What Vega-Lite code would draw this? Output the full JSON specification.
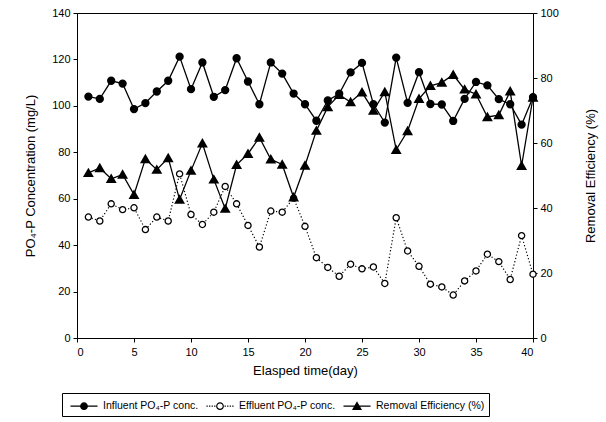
{
  "$schema": "https://vega.github.io/schema/vega-lite/v6.json",
  "width": 456,
  "height": 325,
  "autosize": {"type": "none"},
  "padding": {"left": 77, "top": 13, "right": 73, "bottom": 84},
  "background": "white",
  "config": {
    "view": {"stroke": "black", "strokeWidth": 1},
    "font": "Liberation Sans",
    "axis": {
      "grid": false,
      "domainColor": "black",
      "tickColor": "black",
      "labelColor": "black",
      "titleColor": "black",
      "labelFont": "Liberation Sans",
      "titleFont": "Liberation Sans",
      "labelFontSize": 11,
      "titleFontSize": 13,
      "titleFontWeight": "normal",
      "tickSize": 4,
      "labelPadding": 3
    },
    "legend": {
      "labelFont": "Liberation Sans",
      "labelFontSize": 10.5,
      "labelColor": "black"
    }
  },
  "datasets": {
    "pts": [
      {"day": 1, "series": "Influent PO₄-P conc.", "value": 104},
      {"day": 2, "series": "Influent PO₄-P conc.", "value": 103},
      {"day": 3, "series": "Influent PO₄-P conc.", "value": 110.8},
      {"day": 4, "series": "Influent PO₄-P conc.", "value": 109.6},
      {"day": 5, "series": "Influent PO₄-P conc.", "value": 98.6},
      {"day": 6, "series": "Influent PO₄-P conc.", "value": 101.2},
      {"day": 7, "series": "Influent PO₄-P conc.", "value": 106.2},
      {"day": 8, "series": "Influent PO₄-P conc.", "value": 110.8},
      {"day": 9, "series": "Influent PO₄-P conc.", "value": 121.2},
      {"day": 10, "series": "Influent PO₄-P conc.", "value": 107.2},
      {"day": 11, "series": "Influent PO₄-P conc.", "value": 118.7},
      {"day": 12, "series": "Influent PO₄-P conc.", "value": 103.9},
      {"day": 13, "series": "Influent PO₄-P conc.", "value": 106.8},
      {"day": 14, "series": "Influent PO₄-P conc.", "value": 120.5},
      {"day": 15, "series": "Influent PO₄-P conc.", "value": 110.5},
      {"day": 16, "series": "Influent PO₄-P conc.", "value": 100.7},
      {"day": 17, "series": "Influent PO₄-P conc.", "value": 118.7},
      {"day": 18, "series": "Influent PO₄-P conc.", "value": 113.9},
      {"day": 19, "series": "Influent PO₄-P conc.", "value": 105.3},
      {"day": 20, "series": "Influent PO₄-P conc.", "value": 100.7},
      {"day": 21, "series": "Influent PO₄-P conc.", "value": 93.6},
      {"day": 22, "series": "Influent PO₄-P conc.", "value": 102.3},
      {"day": 23, "series": "Influent PO₄-P conc.", "value": 105.2},
      {"day": 24, "series": "Influent PO₄-P conc.", "value": 114.4},
      {"day": 25, "series": "Influent PO₄-P conc.", "value": 118.5},
      {"day": 26, "series": "Influent PO₄-P conc.", "value": 100.7},
      {"day": 27, "series": "Influent PO₄-P conc.", "value": 92.8},
      {"day": 28, "series": "Influent PO₄-P conc.", "value": 120.8},
      {"day": 29, "series": "Influent PO₄-P conc.", "value": 101.3},
      {"day": 30, "series": "Influent PO₄-P conc.", "value": 114.5},
      {"day": 31, "series": "Influent PO₄-P conc.", "value": 100.8},
      {"day": 32, "series": "Influent PO₄-P conc.", "value": 100.6},
      {"day": 33, "series": "Influent PO₄-P conc.", "value": 93.5},
      {"day": 34, "series": "Influent PO₄-P conc.", "value": 103},
      {"day": 35, "series": "Influent PO₄-P conc.", "value": 110.3},
      {"day": 36, "series": "Influent PO₄-P conc.", "value": 108.8},
      {"day": 37, "series": "Influent PO₄-P conc.", "value": 102.9},
      {"day": 38, "series": "Influent PO₄-P conc.", "value": 100.7},
      {"day": 39, "series": "Influent PO₄-P conc.", "value": 91.9},
      {"day": 40, "series": "Influent PO₄-P conc.", "value": 103.7},
      {"day": 1, "series": "Effluent PO₄-P conc.", "value": 52.1},
      {"day": 2, "series": "Effluent PO₄-P conc.", "value": 50.4},
      {"day": 3, "series": "Effluent PO₄-P conc.", "value": 57.8},
      {"day": 4, "series": "Effluent PO₄-P conc.", "value": 55.3},
      {"day": 5, "series": "Effluent PO₄-P conc.", "value": 56.1},
      {"day": 6, "series": "Effluent PO₄-P conc.", "value": 46.7},
      {"day": 7, "series": "Effluent PO₄-P conc.", "value": 52.1},
      {"day": 8, "series": "Effluent PO₄-P conc.", "value": 50.4},
      {"day": 9, "series": "Effluent PO₄-P conc.", "value": 70.7},
      {"day": 10, "series": "Effluent PO₄-P conc.", "value": 53.2},
      {"day": 11, "series": "Effluent PO₄-P conc.", "value": 48.9},
      {"day": 12, "series": "Effluent PO₄-P conc.", "value": 54.2},
      {"day": 13, "series": "Effluent PO₄-P conc.", "value": 65.3},
      {"day": 14, "series": "Effluent PO₄-P conc.", "value": 57.8},
      {"day": 15, "series": "Effluent PO₄-P conc.", "value": 48.5},
      {"day": 16, "series": "Effluent PO₄-P conc.", "value": 39.2},
      {"day": 17, "series": "Effluent PO₄-P conc.", "value": 54.7},
      {"day": 18, "series": "Effluent PO₄-P conc.", "value": 54.2},
      {"day": 19, "series": "Effluent PO₄-P conc.", "value": 60.3},
      {"day": 20, "series": "Effluent PO₄-P conc.", "value": 48.1},
      {"day": 21, "series": "Effluent PO₄-P conc.", "value": 34.6},
      {"day": 22, "series": "Effluent PO₄-P conc.", "value": 30.4},
      {"day": 23, "series": "Effluent PO₄-P conc.", "value": 26.6},
      {"day": 24, "series": "Effluent PO₄-P conc.", "value": 31.8},
      {"day": 25, "series": "Effluent PO₄-P conc.", "value": 29.8},
      {"day": 26, "series": "Effluent PO₄-P conc.", "value": 30.6},
      {"day": 27, "series": "Effluent PO₄-P conc.", "value": 23.5},
      {"day": 28, "series": "Effluent PO₄-P conc.", "value": 51.8},
      {"day": 29, "series": "Effluent PO₄-P conc.", "value": 37.5},
      {"day": 30, "series": "Effluent PO₄-P conc.", "value": 30.9},
      {"day": 31, "series": "Effluent PO₄-P conc.", "value": 23.2},
      {"day": 32, "series": "Effluent PO₄-P conc.", "value": 22},
      {"day": 33, "series": "Effluent PO₄-P conc.", "value": 18.5},
      {"day": 34, "series": "Effluent PO₄-P conc.", "value": 24.6},
      {"day": 35, "series": "Effluent PO₄-P conc.", "value": 28.9},
      {"day": 36, "series": "Effluent PO₄-P conc.", "value": 36.1},
      {"day": 37, "series": "Effluent PO₄-P conc.", "value": 32.9},
      {"day": 38, "series": "Effluent PO₄-P conc.", "value": 25.2},
      {"day": 39, "series": "Effluent PO₄-P conc.", "value": 44.1},
      {"day": 40, "series": "Effluent PO₄-P conc.", "value": 27.5},
      {"day": 1, "series": "Removal Efficiency (%)", "value": 50.8},
      {"day": 2, "series": "Removal Efficiency (%)", "value": 52.3},
      {"day": 3, "series": "Removal Efficiency (%)", "value": 49},
      {"day": 4, "series": "Removal Efficiency (%)", "value": 50.3},
      {"day": 5, "series": "Removal Efficiency (%)", "value": 44.1},
      {"day": 6, "series": "Removal Efficiency (%)", "value": 55.1},
      {"day": 7, "series": "Removal Efficiency (%)", "value": 51.8},
      {"day": 8, "series": "Removal Efficiency (%)", "value": 55.4},
      {"day": 9, "series": "Removal Efficiency (%)", "value": 42.6},
      {"day": 10, "series": "Removal Efficiency (%)", "value": 51.5},
      {"day": 11, "series": "Removal Efficiency (%)", "value": 59.9},
      {"day": 12, "series": "Removal Efficiency (%)", "value": 48.8},
      {"day": 13, "series": "Removal Efficiency (%)", "value": 39.8},
      {"day": 14, "series": "Removal Efficiency (%)", "value": 53.3},
      {"day": 15, "series": "Removal Efficiency (%)", "value": 56.7},
      {"day": 16, "series": "Removal Efficiency (%)", "value": 61.7},
      {"day": 17, "series": "Removal Efficiency (%)", "value": 55},
      {"day": 18, "series": "Removal Efficiency (%)", "value": 53.4},
      {"day": 19, "series": "Removal Efficiency (%)", "value": 43.3},
      {"day": 20, "series": "Removal Efficiency (%)", "value": 53.1},
      {"day": 21, "series": "Removal Efficiency (%)", "value": 63.8},
      {"day": 22, "series": "Removal Efficiency (%)", "value": 71.1},
      {"day": 23, "series": "Removal Efficiency (%)", "value": 74.8},
      {"day": 24, "series": "Removal Efficiency (%)", "value": 72.6},
      {"day": 25, "series": "Removal Efficiency (%)", "value": 75.6},
      {"day": 26, "series": "Removal Efficiency (%)", "value": 70},
      {"day": 27, "series": "Removal Efficiency (%)", "value": 75.7},
      {"day": 28, "series": "Removal Efficiency (%)", "value": 57.9},
      {"day": 29, "series": "Removal Efficiency (%)", "value": 63.7},
      {"day": 30, "series": "Removal Efficiency (%)", "value": 73.6},
      {"day": 31, "series": "Removal Efficiency (%)", "value": 77.6},
      {"day": 32, "series": "Removal Efficiency (%)", "value": 78.6},
      {"day": 33, "series": "Removal Efficiency (%)", "value": 81},
      {"day": 34, "series": "Removal Efficiency (%)", "value": 76.5},
      {"day": 35, "series": "Removal Efficiency (%)", "value": 75},
      {"day": 36, "series": "Removal Efficiency (%)", "value": 68},
      {"day": 37, "series": "Removal Efficiency (%)", "value": 68.6},
      {"day": 38, "series": "Removal Efficiency (%)", "value": 75.9},
      {"day": 39, "series": "Removal Efficiency (%)", "value": 53},
      {"day": 40, "series": "Removal Efficiency (%)", "value": 74}
    ]
  },
  "data": {"name": "pts"},
  "encoding": {
    "x": {
      "field": "day",
      "type": "quantitative",
      "scale": {"domain": [0, 40], "nice": false},
      "axis": {"values": [0, 5, 10, 15, 20, 25, 30, 35, 40], "title": "Elasped time(day)", "titlePadding": 7, "labelPadding": 4}
    }
  },
  "layer": [
    {
      "encoding": {
        "y": {
          "field": "value",
          "type": "quantitative",
          "scale": {"domain": [0, 140], "nice": false},
          "axis": {"values": [0, 20, 40, 60, 80, 100, 120, 140], "title": "PO₄-P Concentration (mg/L)", "titlePadding": 14}
        }
      },
      "layer": [
        {
          "transform": [{"filter": "datum.series === 'Influent PO₄-P conc.'"}],
          "mark": {"type": "line", "color": "black", "strokeWidth": 1.3}
        },
        {
          "transform": [{"filter": "datum.series === 'Effluent PO₄-P conc.'"}],
          "mark": {"type": "line", "color": "black", "strokeWidth": 1.2, "strokeDash": [1.2, 2.2]}
        },
        {
          "transform": [{"filter": "datum.series === 'Influent PO₄-P conc.'"}],
          "mark": {"type": "point", "shape": "circle", "filled": true, "fill": "black", "stroke": "black", "size": 40, "opacity": 1}
        },
        {
          "transform": [{"filter": "datum.series === 'Effluent PO₄-P conc.'"}],
          "mark": {"type": "point", "shape": "circle", "filled": true, "fill": "white", "stroke": "black", "strokeWidth": 1.3, "size": 38, "opacity": 1}
        }
      ]
    },
    {
      "transform": [{"filter": "datum.series === 'Removal Efficiency (%)'"}],
      "encoding": {
        "y": {
          "field": "value",
          "type": "quantitative",
          "scale": {"domain": [0, 100], "nice": false},
          "axis": {"orient": "right", "values": [0, 20, 40, 60, 80, 100], "title": "Removal Efficiency (%)", "titleAngle": -90, "titleBaseline": "bottom", "titlePadding": 39}
        }
      },
      "layer": [
        {
          "mark": {"type": "line", "color": "black", "strokeWidth": 1.3}
        },
        {
          "mark": {"type": "point", "shape": "triangle-up", "filled": true, "fill": "black", "stroke": "black", "size": 55, "opacity": 1}
        }
      ]
    },
    {
      "mark": {"type": "point", "filled": true, "stroke": "black", "strokeWidth": 1.2, "opacity": 0},
      "encoding": {
        "shape": {
          "field": "series",
          "type": "nominal",
          "scale": {
            "domain": ["Influent PO₄-P conc.", "Effluent PO₄-P conc.", "Removal Efficiency (%)"],
            "range": [
              "M-1.69,0H1.69M0.41,0A0.41,0.41,0,1,1,-0.41,0A0.41,0.41,0,1,1,0.41,0Z",
              "M-1.69,0H-1.53M-1.37,0H-1.21M-1.05,0H-0.89M-0.73,0H-0.57M0.57,0H0.73M0.89,0H1.05M1.21,0H1.37M1.53,0H1.69M0.41,0A0.41,0.41,0,1,1,-0.41,0A0.41,0.41,0,1,1,0.41,0Z",
              "M-1.69,0H1.69M0,-0.47L0.5,0.4L-0.5,0.4Z"
            ]
          },
          "legend": {
            "title": null,
            "orient": "none",
            "legendX": -15,
            "legendY": 380,
            "direction": "horizontal",
            "strokeColor": "black",
            "padding": 4,
            "symbolSize": 256,
            "symbolOffset": 9,
            "symbolStrokeWidth": 1.2,
            "symbolStrokeColor": "black",
            "symbolOpacity": 1,
            "labelLimit": 300,
            "labelOffset": 10,
            "columnPadding": 3,
            "encode": {"symbols": {"update": {"opacity": {"value": 1}, "stroke": {"value": "black"}}}}
          }
        },
        "fill": {
          "field": "series",
          "type": "nominal",
          "scale": {
            "domain": ["Influent PO₄-P conc.", "Effluent PO₄-P conc.", "Removal Efficiency (%)"],
            "range": ["black", "white", "black"]
          },
          "legend": {
            "title": null,
            "orient": "none",
            "legendX": -15,
            "legendY": 380,
            "direction": "horizontal",
            "strokeColor": "black",
            "padding": 4,
            "symbolSize": 256,
            "symbolOffset": 9,
            "symbolStrokeWidth": 1.2,
            "symbolStrokeColor": "black",
            "symbolOpacity": 1,
            "labelLimit": 300,
            "labelOffset": 10,
            "columnPadding": 3,
            "encode": {"symbols": {"update": {"opacity": {"value": 1}, "stroke": {"value": "black"}}}}
          }
        }
      }
    }
  ],
  "resolve": {"scale": {"y": "independent"}}
}
